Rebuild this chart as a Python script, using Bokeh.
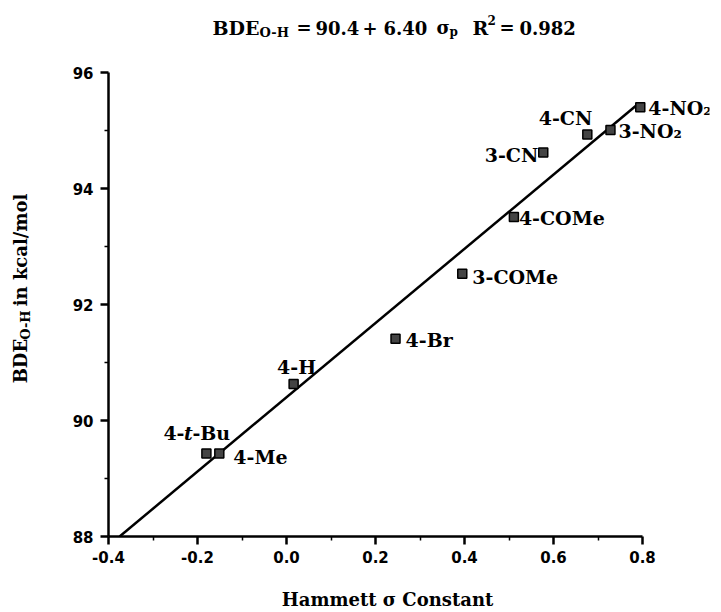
import math
from bokeh.plotting import figure
from bokeh.layouts import column, row
from bokeh.models import ColumnDataSource, Range1d, FixedTicker, PrintfTickFormatter
from bokeh.core.properties import value
from bokeh.embed import file_html
from bokeh.resources import INLINE

# ---- data ----
substituents = ["4-NO\u2082", "3-NO\u2082", "4-CN", "3-CN", "4-COMe", "3-COMe", "4-Br", "4-H", "4-t-Bu", "4-Me"]
sigma = [0.795, 0.728, 0.676, 0.577, 0.511, 0.395, 0.245, 0.016, -0.180, -0.151]
bde = [95.40, 95.01, 94.93, 94.62, 93.51, 92.53, 91.41, 90.63, 89.43, 89.43]

fit_intercept = 90.4
fit_slope = 6.40
fit_sigma = [-0.375, 0.79]
fit_bde = [fit_intercept + fit_slope * s for s in fit_sigma]

x_ticks = [-0.4, -0.2, 0.0, 0.2, 0.4, 0.6, 0.8]
x_minor = [-0.3, -0.1, 0.1, 0.3, 0.5, 0.7]
y_ticks = [88, 90, 92, 94, 96]
y_minor = [89, 91, 93, 95]

# label placement (screen px offsets; dy positive = down)
lab_align = ["left", "left", "right", "right", "left", "left", "left", "center", "left", "left"]
lab_dx = [8, 8, 5, -5, 5, 10, 10, 3, -43, 14]
lab_dy = [1, 1, -17, 2, 1, 3, 1, -17, -21, 3]

SERIF = value("DejaVu Serif")
LABEL_SIZE = "19px"


def canvas_fig(w, h):
    f = figure(width=w, height=h, output_backend="svg", toolbar_location=None,
               x_range=Range1d(0, w), y_range=Range1d(h, 0),
               x_axis_location=None, y_axis_location=None, min_border=0)
    f.outline_line_color = None
    f.background_fill_color = "white"
    f.border_fill_color = "white"
    for g in f.grid:
        g.visible = False
    return f


def put(f, txt, x, y, size="18px", angle=0.0, align="left", style="bold"):
    f.text(x=[x], y=[y], text=[txt], angle=angle, text_align=align, text_baseline="middle",
           text_font=SERIF, text_font_style=style, text_font_size=size, text_color="black")


# ---- main plot ----
p = figure(width=661, height=512, output_backend="svg", toolbar_location=None,
           x_range=Range1d(-0.4, -0.4 + 601 / 445.0), y_range=Range1d(88, 96),
           min_border_left=48, min_border_right=12, min_border_top=8, min_border_bottom=40)
p.outline_line_color = None
p.xgrid.visible = False
p.ygrid.visible = False
p.background_fill_color = "white"
p.border_fill_color = "white"

for ax, ticks, minor, fmt, bnds in ((p.xaxis[0], x_ticks, x_minor, "%.1f", (-0.4, 0.8)),
                                     (p.yaxis[0], y_ticks, y_minor, "%.0f", (88, 96))):
    ax.ticker = FixedTicker(ticks=ticks, minor_ticks=minor)
    ax.formatter = PrintfTickFormatter(format=fmt)
    ax.bounds = bnds
    ax.axis_line_width = 2.5
    ax.axis_line_color = "black"
    ax.major_tick_line_width = 2.5
    ax.major_tick_line_color = "black"
    ax.minor_tick_line_width = 1.5
    ax.minor_tick_line_color = "black"
    ax.major_tick_out = 8
    ax.major_tick_in = 0
    ax.minor_tick_out = 4
    ax.minor_tick_in = 0
    ax.major_label_text_font = "DejaVu Sans"
    ax.major_label_text_font_style = "bold"
    ax.major_label_text_font_size = "15px"
    ax.major_label_text_color = "black"
p.xaxis[0].major_label_standoff = 6
p.yaxis[0].major_label_standoff = 7

# fit line
p.line(fit_sigma, fit_bde, line_width=2.5, line_color="black")

# points
src = ColumnDataSource(dict(x=sigma, y=bde))
p.scatter("x", "y", source=src, marker="square", size=9, fill_color="#444444",
          line_color="black", line_width=1.5)

# point labels (all but 4-t-Bu, which has an italic t)
idx = [i for i, s in enumerate(substituents) if s != "4-t-Bu"]
lsrc = ColumnDataSource(dict(
    x=[sigma[i] for i in idx], y=[bde[i] for i in idx], t=[substituents[i] for i in idx],
    align=[lab_align[i] for i in idx],
    dx=[lab_dx[i] for i in idx], dy=[lab_dy[i] for i in idx]))
p.text("x", "y", text="t", source=lsrc, text_align="align", text_baseline="middle",
       x_offset="dx", y_offset="dy", text_font=SERIF, text_font_style="bold",
       text_font_size=LABEL_SIZE, text_color="black")

k = substituents.index("4-t-Bu")
for txt, style, off in (("4-", "bold", 0), ("t", "bold italic", 20.5), ("-Bu", "bold", 29)):
    p.text(x=[sigma[k]], y=[bde[k]], text=[txt], text_align="left", text_baseline="middle",
           x_offset=lab_dx[k] + off, y_offset=lab_dy[k], text_font=SERIF,
           text_font_style=style, text_font_size=LABEL_SIZE, text_color="black")

# ---- title strip ----
top = canvas_fig(721, 64)
put(top, "BDE", 212, 27, size="19px")
put(top, "O-H", 259, 32, size="13px")
put(top, "=", 296, 27)
put(top, "90.4", 315, 27)
put(top, "+", 362, 27)
put(top, "6.40", 383, 27)
put(top, "\u03c3", 436, 27)
put(top, "p", 449, 31, size="12px")
put(top, "R", 472, 27, size="19px")
put(top, "2", 487, 19, size="12px")
put(top, "=", 499, 27)
put(top, "0.982", 519, 27)

# ---- y-axis label strip (left-aligned, reading upward) ----
left = canvas_fig(60, 512)
put(left, "BDE", 20, 407 - 64, angle=math.pi / 2)
put(left, "O-H", 25, 359 - 64, size="13px", angle=math.pi / 2)
put(left, "in kcal/mol", 20, 322 - 64, angle=math.pi / 2)

# ---- x-axis label strip ----
bottom = canvas_fig(721, 36)
put(bottom, "Hammett \u03c3 Constant", 387, 599 - 576, align="center")

layout = column(top, row(left, p), bottom)
open("out.html", "w").write(file_html(layout, INLINE))
